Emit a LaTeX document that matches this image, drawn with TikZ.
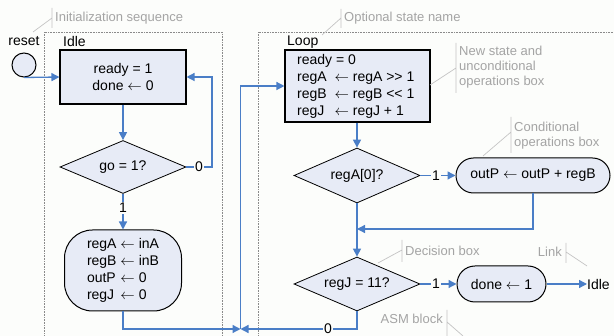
\documentclass[tikz,border=0pt]{standalone}
\usepackage{fontspec}
\setmainfont{Liberation Sans}
\usetikzlibrary{arrows.meta,shapes.geometric,calc}
\definecolor{bg}{HTML}{FCFDFB}
\definecolor{flowblue}{HTML}{4A7EC7}
\definecolor{boxfill}{HTML}{E7EBF6}
\definecolor{annot}{HTML}{A4A4A4}
\definecolor{annotline}{HTML}{C4C4C4}
\definecolor{frame}{HTML}{8A8A8A}
\begin{document}
\begin{tikzpicture}[x=1pt,y=-1pt,
  main/.style={font=\fontsize{14}{17}\selectfont},
  opbox/.style={draw=black, line width=1.1pt, fill=boxfill, inner sep=0pt, main},
  condbox/.style={draw=black, line width=1pt, fill=boxfill, inner sep=0pt, main},
  decbox/.style={diamond, draw=black, line width=0.8pt, fill=boxfill, inner sep=0pt, aspect=2.3, main},
  flow/.style={draw=flowblue, line width=1.3pt, -{Triangle[length=8pt,width=8pt]}},
  flowline/.style={draw=flowblue, line width=1.3pt},
  lbl/.style={fill=bg, inner sep=1pt, main},
  note/.style={text=annot, font=\fontsize{13}{15}\selectfont, align=left, inner sep=0pt},
  noteline/.style={draw=annotline, line width=0.7pt},
  statebox/.style={draw=frame, densely dotted, line width=0.6pt}
]
\fill[bg] (0,0) rectangle (614,336);
\useasboundingbox (0,0) rectangle (614,336);

% state frames
\draw[statebox] (44,340) -- (44,32) -- (222,32) -- (222,340);
\draw[statebox] (258,340) -- (258,32) -- (620,32);

% Idle state
\node[main] (resetlbl) at (24,41) {reset};
\node[circle, draw=black, line width=1pt, fill=boxfill, minimum size=24pt, inner sep=0pt] (rst) at (24,65) {};
\node[main, anchor=west, inner sep=0pt] (idlelbl) at (63,42) {Idle};
\node[opbox, minimum width=126pt, minimum height=54pt, align=center] (idlebox) at (123,77) {ready = 1\\done $\leftarrow$ 0};
\node[decbox, minimum width=126pt, minimum height=53pt] (go) at (123,167) {go = 1?};
\node[condbox, rounded corners=28pt, minimum width=117pt, minimum height=81pt] (init) at (123,270.5)
  {\begin{tabular}{@{}l@{ }l@{}}regA & $\leftarrow$ inA\\regB & $\leftarrow$ inB\\outP & $\leftarrow$ 0\\regJ & $\leftarrow$ 0\end{tabular}};

% Loop state
\node[main, anchor=west, inner sep=0pt] (looplbl) at (287,42) {Loop};
\node[opbox, minimum width=145pt, minimum height=72pt] (loopbox) at (357.5,86) {};
\node[main, anchor=north west, inner sep=0pt] (looptext) at (297,52)
  {\begin{tabular}{@{}l@{\ \ }l@{}}\multicolumn{2}{@{}l@{}}{ready = 0}\\regA & $\leftarrow$ regA >{}> 1\\regB & $\leftarrow$ regB <{}< 1\\regJ & $\leftarrow$ regJ + 1\end{tabular}};
\node[decbox, minimum width=126pt, minimum height=55pt] (rega) at (357,175.5) {regA[0]?};
\node[condbox, rounded corners=17.5pt, minimum width=154pt, minimum height=35pt] (outp) at (533,175.5) {outP $\leftarrow$ outP + regB};
\node[decbox, minimum width=126pt, minimum height=54pt] (regj) at (357,284) {regJ = 11?};
\node[condbox, rounded corners=18pt, minimum width=89pt, minimum height=36pt] (done) at (501.5,284) {done $\leftarrow$ 1};
\node[main, anchor=west, inner sep=0pt] (idlelink) at (587,284) {Idle};

% connectors
\coordinate (j) at (240.5,329);
\coordinate (m) at (357,229);
\draw[flow] (rst.south) -- (idlebox.west);
\draw[flow] (idlebox.south) -- (go.north);
\draw[flow] (go.east) -- (212,167) |- (idlebox.east);
\node[lbl] (go0) at (199,167) {0};
\draw[flow] (go.south) -- (init.north);
\node[lbl] (go1) at (123,208) {1};
\draw[flow] (init.south) |- (j);
\draw[flow] (regj.south) |- (j);
\node[lbl] (rj0) at (328,329) {0};
\draw[flow] (j) |- (loopbox.west);
\draw[flow] (loopbox.south -| rega.north) -- (rega.north);
\draw[flow] (rega.east) -- (outp.west);
\node[lbl] (ra1) at (436,175.5) {1};
\draw[flow] (rega.south) -- (regj.north);
\draw[flow] (outp.south) |- (m);
\draw[flow] (regj.east) -- (done.west);
\node[lbl] (rj1) at (436,284) {1};
\draw[flow] (done.east) -- (idlelink.west);

% annotations
\node[note, anchor=west] (n1) at (55,18) {Initialization sequence};
\draw[noteline] (52,8) -- (52,28) (52,18) -- (33,32);
\node[note, anchor=west] (n2) at (344,18) {Optional state name};
\draw[noteline] (341,9) -- (341,28) (341,18) -- (322,35);
\node[note, anchor=west] (n3) at (459,67) {New state and\\unconditional\\operations box};
\draw[noteline] (456,43) -- (456,93) (456,68) -- (430,85);
\node[note, anchor=west] (n4) at (514,135.5) {Conditional\\operations box};
\draw[noteline] (511,117) -- (511,153) (511,132) -- (483,156);
\node[note, anchor=west] (n5) at (405,251) {Decision box};
\draw[noteline] (402,240) -- (402,262) (402,250) -- (378,263);
\node[note, anchor=east] (n6) at (562,252) {Link};
\draw[noteline] (566,243) -- (566,263) (566,252) -- (587,266);
\node[note, anchor=east] (n7) at (443,319) {ASM block};
\draw[noteline] (447,310) -- (447,340) (447,322) -- (463,336);
\end{tikzpicture}
\end{document}
